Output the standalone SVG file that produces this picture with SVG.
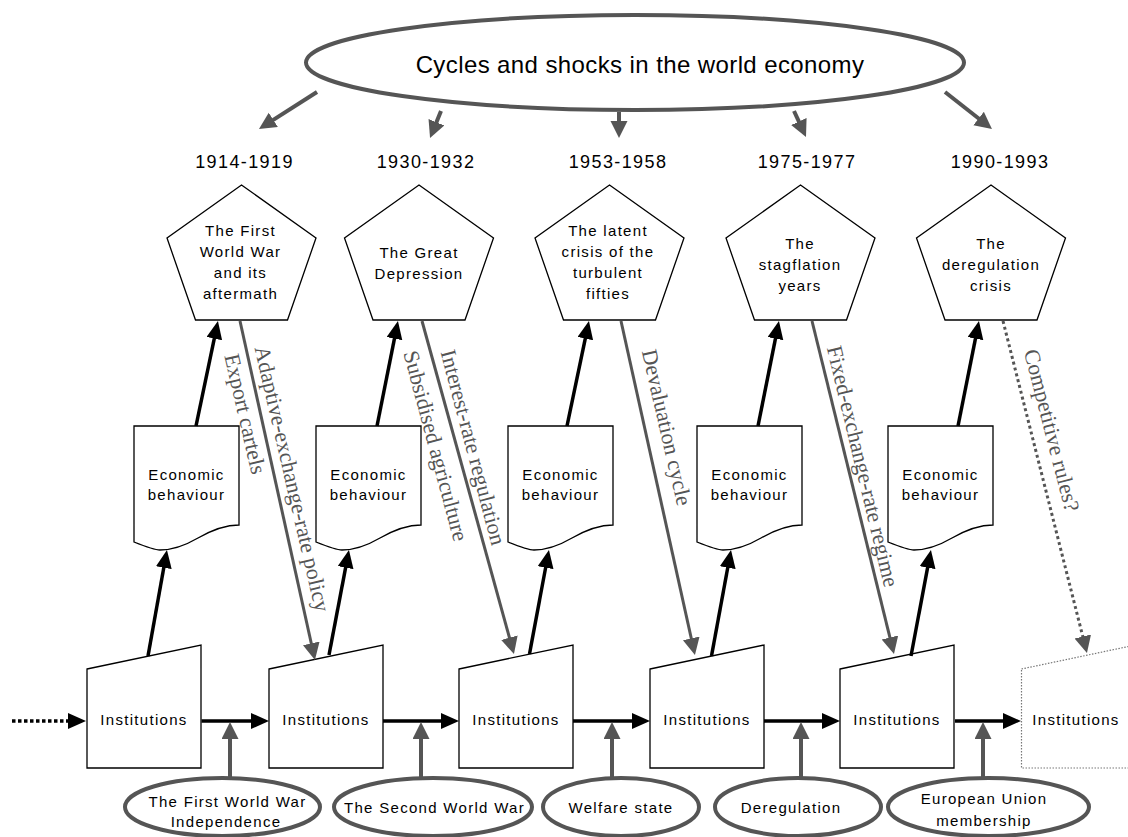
<svg xmlns="http://www.w3.org/2000/svg" xmlns:xlink="http://www.w3.org/1999/xlink" width="1128" height="837" viewBox="0 0 1128 837">
<style>
.sans{font-family:"Liberation Sans",Arial,sans-serif;fill:#000;text-anchor:middle}
.t15{font-size:15px;letter-spacing:1.3px}
.yr{font-size:18px;letter-spacing:1.4px}
.title{font-size:24px;letter-spacing:0.4px}
.lbl{font-family:"Liberation Serif","Times New Roman",serif;font-size:22px;fill:#555;text-anchor:middle}
.shape{fill:#fff;stroke:#000;stroke-width:1.3}
.dotshape{fill:#fff;stroke:#777;stroke-width:1.2;stroke-dasharray:1.5 1.5}
.oval{fill:#fff;stroke:#555;stroke-width:4}
.blk{stroke:#000;stroke-width:3.5;fill:none;marker-end:url(#ahB)}
.gry{stroke:#555;stroke-width:3;fill:none;marker-end:url(#ahG)}
.gry4{stroke:#555;stroke-width:4;fill:none;marker-end:url(#ahG)}
</style>
<defs>
<marker id="ahB" markerUnits="userSpaceOnUse" markerWidth="20" markerHeight="18" viewBox="0 0 20 18" refX="8" refY="8" orient="auto"><path d="M0,0 L18,8 L0,16 z" fill="#000"/></marker>
<marker id="ahG" markerUnits="userSpaceOnUse" markerWidth="20" markerHeight="18" viewBox="0 0 20 18" refX="7" refY="8.5" orient="auto"><path d="M0,0 L17,8.5 L0,17 z" fill="#555"/></marker>
<polygon id="pent" points="0,0 74.5,53 46,135 -46,135 -74.5,53"/>
<path id="doc" d="M0,0 H105 V99 C92,99 78,104 64,112 C52,119 40,124 26,124 C20,124 10,120 0,116 Z"/>
<polygon id="inst" points="0,24 114,0 114,123 0,123"/>
</defs>

<g id="world-economy">
<ellipse class="oval" cx="635" cy="62.5" rx="329" ry="47.5"/>
<text class="sans title" x="640" y="73">Cycles and shocks in the world economy</text>
</g>

<g id="years" class="sans yr">
<text x="244.5" y="168">1914-1919</text>
<text x="426" y="168">1930-1932</text>
<text x="618" y="168">1953-1958</text>
<text x="807" y="168">1975-1977</text>
<text x="1000" y="168">1990-1993</text>
</g>

<g id="crisis1"><use xlink:href="#pent" href="#pent" class="shape" x="241.5" y="185"/>
<text class="sans t15" x="240.5" y="236">The First</text><text class="sans t15" x="240.5" y="257">World War</text><text class="sans t15" x="240.5" y="278">and its</text><text class="sans t15" x="240.5" y="299">aftermath</text></g>
<g id="crisis2"><use xlink:href="#pent" href="#pent" class="shape" x="419" y="185"/>
<text class="sans t15" x="419" y="258">The Great</text><text class="sans t15" x="419" y="279">Depression</text></g>
<g id="crisis3"><use xlink:href="#pent" href="#pent" class="shape" x="609.5" y="185"/>
<text class="sans t15" x="608" y="236">The latent</text><text class="sans t15" x="608" y="257">crisis of the</text><text class="sans t15" x="608" y="278">turbulent</text><text class="sans t15" x="608" y="299">fifties</text></g>
<g id="crisis4"><use xlink:href="#pent" href="#pent" class="shape" x="800.5" y="185"/>
<text class="sans t15" x="800" y="249">The</text><text class="sans t15" x="800" y="270">stagflation</text><text class="sans t15" x="800" y="291">years</text></g>
<g id="crisis5"><use xlink:href="#pent" href="#pent" class="shape" x="991" y="185"/>
<text class="sans t15" x="991" y="249">The</text><text class="sans t15" x="991" y="270">deregulation</text><text class="sans t15" x="991" y="291">crisis</text></g>

<g id="behaviour1"><use xlink:href="#doc" href="#doc" class="shape" x="134" y="426"/><text class="sans t15" x="186.5" y="480">Economic</text><text class="sans t15" x="186.5" y="500">behaviour</text></g>
<g id="behaviour2"><use xlink:href="#doc" href="#doc" class="shape" x="316" y="426"/><text class="sans t15" x="368.5" y="480">Economic</text><text class="sans t15" x="368.5" y="500">behaviour</text></g>
<g id="behaviour3"><use xlink:href="#doc" href="#doc" class="shape" x="508" y="426"/><text class="sans t15" x="560.5" y="480">Economic</text><text class="sans t15" x="560.5" y="500">behaviour</text></g>
<g id="behaviour4"><use xlink:href="#doc" href="#doc" class="shape" x="697" y="426"/><text class="sans t15" x="749.5" y="480">Economic</text><text class="sans t15" x="749.5" y="500">behaviour</text></g>
<g id="behaviour5"><use xlink:href="#doc" href="#doc" class="shape" x="888" y="426"/><text class="sans t15" x="940.5" y="480">Economic</text><text class="sans t15" x="940.5" y="500">behaviour</text></g>

<g id="institutions1"><use xlink:href="#inst" href="#inst" class="shape" x="87" y="645"/><text class="sans t15" x="144" y="725">Institutions</text></g>
<g id="institutions2"><use xlink:href="#inst" href="#inst" class="shape" x="269" y="645"/><text class="sans t15" x="326" y="725">Institutions</text></g>
<g id="institutions3"><use xlink:href="#inst" href="#inst" class="shape" x="459" y="645"/><text class="sans t15" x="516" y="725">Institutions</text></g>
<g id="institutions4"><use xlink:href="#inst" href="#inst" class="shape" x="650" y="645"/><text class="sans t15" x="707" y="725">Institutions</text></g>
<g id="institutions5"><use xlink:href="#inst" href="#inst" class="shape" x="840" y="645"/><text class="sans t15" x="897" y="725">Institutions</text></g>
<g id="institutions6"><use xlink:href="#inst" href="#inst" class="dotshape" x="1021.5" y="645"/><text class="sans t15" x="1076" y="725">Institutions</text></g>

<g id="event1"><ellipse class="oval" cx="222.5" cy="807" rx="97.5" ry="29"/><text class="sans t15" x="227.5" y="807">The First World War</text><text class="sans t15" x="226" y="827">Independence</text></g>
<g id="event2"><ellipse class="oval" cx="433" cy="807" rx="99" ry="29"/><text class="sans t15" x="434.5" y="813">The Second World War</text></g>
<g id="event3"><ellipse class="oval" cx="621" cy="807" rx="78" ry="29"/><text class="sans t15" x="621" y="813">Welfare state</text></g>
<g id="event4"><ellipse class="oval" cx="798" cy="807" rx="83" ry="29"/><text class="sans t15" x="791" y="813">Deregulation</text></g>
<g id="event5"><ellipse class="oval" cx="988.5" cy="807" rx="100.5" ry="29"/><text class="sans t15" x="984" y="804">European Union</text><text class="sans t15" x="984" y="826">membership</text></g>

<g id="connectors">
<line class="gry4" x1="317" y1="92" x2="267.4" y2="123.6"/>
<line class="gry4" x1="441" y1="111" x2="433.8" y2="128.8"/>
<line class="gry4" x1="619" y1="112" x2="619" y2="128"/>
<line class="gry4" x1="794" y1="111" x2="801.8" y2="127.9"/>
<line class="gry4" x1="945" y1="92" x2="984.1" y2="122.8"/>

<line class="blk" x1="196" y1="426" x2="215.9" y2="330.8"/>
<line class="blk" x1="377" y1="426" x2="396" y2="330.8"/>
<line class="blk" x1="567" y1="426" x2="586.9" y2="330.8"/>
<line class="blk" x1="758" y1="426" x2="777" y2="330.8"/>
<line class="blk" x1="958" y1="426" x2="977" y2="330.8"/>

<line class="blk" x1="148" y1="656" x2="165.2" y2="559.8"/>
<line class="blk" x1="329" y1="655" x2="347.1" y2="559.8"/>
<line class="blk" x1="529.5" y1="654" x2="547.1" y2="559.8"/>
<line class="blk" x1="711.5" y1="656" x2="729.2" y2="559.8"/>
<line class="blk" x1="911" y1="656" x2="929.1" y2="559.8"/>

<line class="gry" x1="240" y1="321" x2="312.8" y2="650.2"/>
<line class="gry" x1="422" y1="321" x2="511.3" y2="644.4"/>
<line class="gry" x1="621" y1="321" x2="692.8" y2="645.2"/>
<line class="gry" x1="812" y1="321" x2="891.6" y2="644.3"/>
<line class="gry" x1="1003" y1="321" x2="1084.5" y2="643.3" stroke-dasharray="3 3" stroke-width="3.5"/>

<line class="blk" x1="12" y1="721" x2="76" y2="721" stroke-dasharray="3.5 2.5" stroke-width="4"/>
<line class="blk" x1="201.5" y1="721" x2="259" y2="721" stroke-width="4"/>
<line class="blk" x1="383" y1="721" x2="449" y2="721" stroke-width="4"/>
<line class="blk" x1="573" y1="721" x2="640" y2="721" stroke-width="4"/>
<line class="blk" x1="764" y1="721" x2="830" y2="721" stroke-width="4"/>
<line class="blk" x1="955" y1="721" x2="1011" y2="721" stroke-width="4"/>

<line class="gry4" x1="230" y1="778" x2="230" y2="732"/>
<line class="gry4" x1="421" y1="778" x2="421" y2="732"/>
<line class="gry4" x1="612" y1="778" x2="612" y2="732"/>
<line class="gry4" x1="801" y1="778" x2="801" y2="732"/>
<line class="gry4" x1="983" y1="778" x2="983" y2="732"/>

<text class="lbl" transform="translate(244.5,414) rotate(77)" dy="0.3em">Export cartels</text>
<text class="lbl" transform="translate(291.5,479) rotate(77)" dy="0.3em">Adaptive-exchange-rate policy</text>
<text class="lbl" transform="translate(435,446) rotate(75)" dy="0.3em">Subsidised agriculture</text>
<text class="lbl" transform="translate(472.5,447.5) rotate(75.2)" dy="0.3em">Interest-rate regulation</text>
<text class="lbl" transform="translate(666,427.5) rotate(77)" dy="0.3em">Devaluation cycle</text>
<text class="lbl" transform="translate(862,466.5) rotate(76.5)" dy="0.3em">Fixed-exchange-rate regime</text>
<text class="lbl" transform="translate(1051,430.5) rotate(75.5)" dy="0.3em">Competitive rules?</text>
</g>
</svg>
